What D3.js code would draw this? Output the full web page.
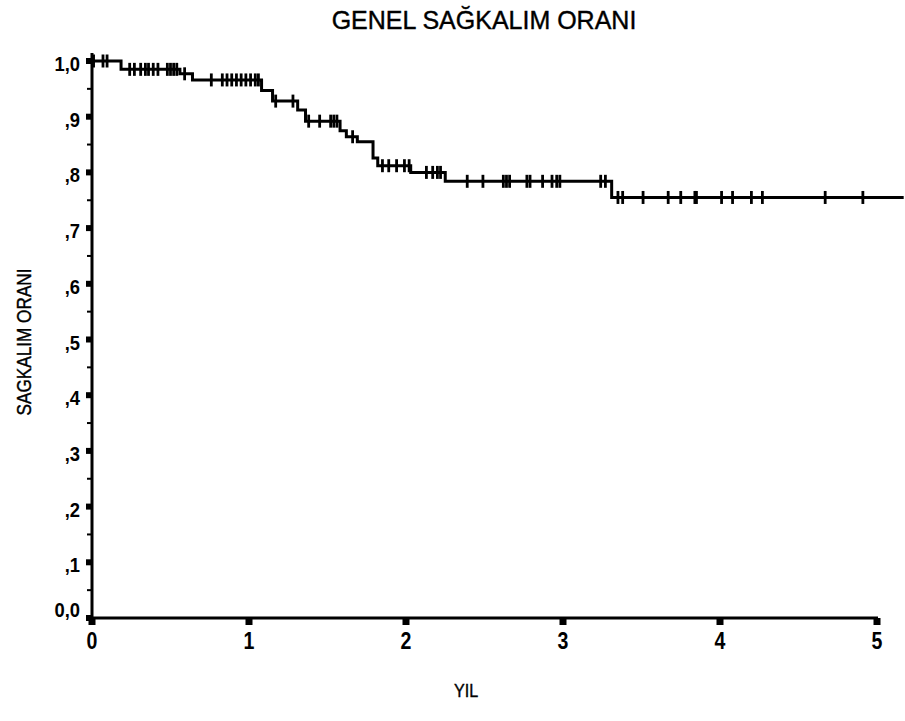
<!DOCTYPE html>
<html>
<head>
<meta charset="utf-8">
<script src="https://cdn.jsdelivr.net/npm/d3@7/dist/d3.min.js"></script>
<style>
  html, body { margin: 0; padding: 0; background: #fff; }
  svg { display: block; }
  text { font-family: "Liberation Sans", Arial, Helvetica, sans-serif; fill: #000; }
</style>
</head>
<body>
<svg id="chart" width="905" height="721"></svg>
<script>
// Kaplan-Meier step function: time (years) at which each drop happens, survival after the drop
const eventTimes = [0, 0.185, 0.56, 0.64, 1.08, 1.15, 1.31, 1.36, 1.58, 1.62, 1.69, 1.79, 1.82, 2.03, 2.25, 3.31];
const survival   = [1.0, 0.985, 0.977, 0.966, 0.947, 0.928, 0.912, 0.892, 0.875, 0.864, 0.855, 0.826, 0.812, 0.800, 0.784, 0.755];
const lastFollowUp = 5.17;

// Censored observations (years)
const censorTimes = [
  0.01, 0.07, 0.096,
  0.24, 0.27, 0.31, 0.34, 0.36, 0.39, 0.42, 0.48, 0.50, 0.52, 0.54,
  0.59,
  0.76, 0.83, 0.86, 0.89, 0.92, 0.95, 0.98, 1.01, 1.04, 1.06,
  1.17, 1.28,
  1.38, 1.45, 1.52, 1.54, 1.56,
  1.66,
  1.85, 1.89, 1.94, 1.99, 2.02,
  2.13, 2.17, 2.20, 2.22,
  2.39, 2.49, 2.62, 2.64, 2.66, 2.77, 2.79, 2.87, 2.93, 2.96, 2.98, 3.24, 3.27,
  3.35, 3.38, 3.51, 3.67, 3.75, 3.84, 3.85, 4.01, 4.08, 4.20, 4.27, 4.67, 4.91
];

const xTicks = [0, 1, 2, 3, 4, 5];
const yTicks = [0, 0.1, 0.2, 0.3, 0.4, 0.5, 0.6, 0.7, 0.8, 0.9, 1.0];
const yTickLabels = ["0,0", ",1", ",2", ",3", ",4", ",5", ",6", ",7", ",8", ",9", "1,0"];
const yMinorTicks = [0.05, 0.15, 0.25, 0.35, 0.45, 0.55, 0.65, 0.75, 0.85, 0.95];

const titleText = "GENEL SAĞKALIM ORANI";
const yTitle = "SAGKALIM ORANI";
const xTitle = "YIL";

const svg = d3.select("#chart");

const x = d3.scaleLinear().domain([0, 5]).range([92, 877]);
const y = d3.scaleLinear().domain([0, 1]).range([618, 61]);

// survival value at time t (right-continuous step)
function survAt(t) {
  let s = survival[0];
  for (let i = 0; i < eventTimes.length; i++) {
    if (eventTimes[i] <= t) s = survival[i];
  }
  return s;
}

// ---- axes ----
const axes = svg.append("g");
axes.append("line")
  .attr("x1", x(0)).attr("x2", x(0))
  .attr("y1", y(1) - 8).attr("y2", y(0) + 2)
  .attr("stroke", "#000").attr("stroke-width", 3);
axes.append("line")
  .attr("x1", x(0) - 1).attr("x2", x(5) + 1)
  .attr("y1", y(0)).attr("y2", y(0))
  .attr("stroke", "#000").attr("stroke-width", 3.2);

// y major ticks: small filled squares on the left of the axis
axes.selectAll(".ymaj").data(yTicks).join("rect")
  .attr("x", x(0) - 6).attr("y", d => y(d) - 3)
  .attr("width", 6).attr("height", 6).attr("fill", "#000");
// y minor ticks
axes.selectAll(".ymin").data(yMinorTicks).join("line")
  .attr("x1", x(0) - 5).attr("x2", x(0))
  .attr("y1", d => y(d)).attr("y2", d => y(d))
  .attr("stroke", "#000").attr("stroke-width", 2);
// x major ticks: squares below the axis
axes.selectAll(".xmaj").data(xTicks).join("rect")
  .attr("x", d => x(d) - 3.5).attr("y", y(0))
  .attr("width", 7).attr("height", 7).attr("fill", "#000");

// tick labels
svg.append("g").selectAll("text").data(yTicks).join("text")
  .attr("transform", (d, i) => `translate(80,${d === 0 ? y(d) - 1 : y(d) + 10}) scale(0.92,1)`)
  .attr("text-anchor", "end")
  .attr("font-size", 20).attr("font-weight", "bold")
  .text((d, i) => yTickLabels[i]);

svg.append("g").selectAll("text").data(xTicks).join("text")
  .attr("transform", d => `translate(${x(d)},649) scale(0.85,1)`)
  .attr("text-anchor", "middle")
  .attr("font-size", 23).attr("font-weight", "bold")
  .text(d => String(d));

// titles
svg.append("text")
  .attr("x", 484).attr("y", 29)
  .attr("text-anchor", "middle")
  .attr("font-size", 25)
  .attr("stroke", "#000").attr("stroke-width", 0.4)
  .text(titleText);

svg.append("text")
  .attr("transform", "translate(31,342) rotate(-90) scale(0.86,1)")
  .attr("text-anchor", "middle")
  .attr("font-size", 20)
  .attr("stroke", "#000").attr("stroke-width", 0.4)
  .text(yTitle);

svg.append("text")
  .attr("transform", "translate(466,697) scale(0.85,1)")
  .attr("text-anchor", "middle")
  .attr("font-size", 19)
  .attr("stroke", "#000").attr("stroke-width", 0.4)
  .text(xTitle);

// ---- survival curve ----
const pts = eventTimes.map((t, i) => [t, survival[i]]);
pts.push([lastFollowUp, survival[survival.length - 1]]);

svg.append("path")
  .datum(pts)
  .attr("fill", "none")
  .attr("stroke", "#000")
  .attr("stroke-width", 3)
  .attr("d", d3.line().x(d => x(d[0])).y(d => y(d[1])).curve(d3.curveStepAfter));

// censor marks
svg.append("g").selectAll("line").data(censorTimes).join("line")
  .attr("x1", d => x(d)).attr("x2", d => x(d))
  .attr("y1", d => y(survAt(d)) - 6.5)
  .attr("y2", d => y(survAt(d)) + 6.5)
  .attr("stroke", "#000").attr("stroke-width", 2.8);
</script>
</body>
</html>
